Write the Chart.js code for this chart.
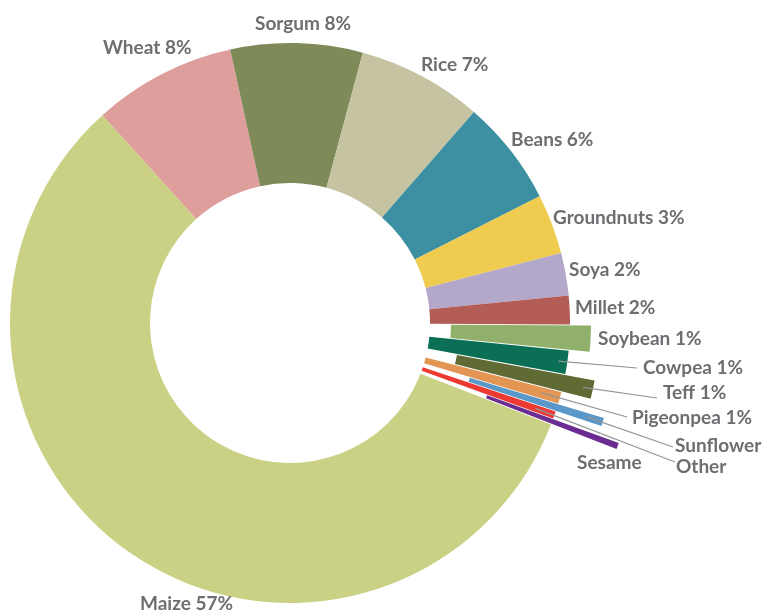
<!DOCTYPE html>
<html>
<head>
<meta charset="utf-8">
<script src="https://cdn.jsdelivr.net/npm/chart.js@4.4.0/dist/chart.umd.min.js"></script>
<style>
  html, body { margin: 0; padding: 0; background: #fff; }
  #wrap { width: 763px; height: 613px; }
</style>
</head>
<body>
<div id="wrap"><canvas id="crops" width="763" height="613"></canvas></div>
<script>
// crop shares (%), clockwise from the top-left
const crops = ["Wheat", "Sorgum", "Rice", "Beans", "Groundnuts", "Soya", "Millet",
  "Soybean", "Cowpea", "Teff", "Pigeonpea", "Sunflower", "Other", "Sesame", "Maize"];
const shares = [8.25, 7.6, 7.2, 6.1, 3.45, 2.45, 1.65, 1.49, 1.33, 1.06, 0.67, 0.47, 0.42, 0.36, 57.28];
// crops whose label carries no percentage
const noPct = ["Sunflower", "Other", "Sesame"];
// slices pulled out of the ring, and how far (px)
const pullOut = { Soybean: 21, Teff: 30, Sunflower: 48, Sesame: 70 };

const colors = ["#de9e9c", "#7f8a59", "#c6c3a3", "#3d90a1", "#efcb4f", "#b3a8c9", "#b45d57",
  "#90b06c", "#0a6f55", "#5f6a35", "#e39553", "#5a98c9", "#ec3a33", "#6a2c91", "#cad185"];

// label anchor (left, middle); leader line end and how deep it starts inside the slice
const spots = {
  Wheat: [103, 48], Sorgum: [255, 24], Rice: [421, 65], Beans: [511, 140],
  Groundnuts: [553, 218], Soya: [569, 270], Millet: [575, 308], Soybean: [598, 339],
  Cowpea: [643, 368, 637, 368, 9], Teff: [663, 393, 657, 398, 10],
  Pigeonpea: [632, 418, 627, 417, 19], Sunflower: [675, 446, 673, 447, 17],
  Other: [676, 467, 675, 462, 20], Sesame: [577, 463], Maize: [140, 604]
};

const labelText = (i) => noPct.includes(crops[i]) ? crops[i] : crops[i] + " " + Math.round(shares[i]) + "%";

// shift of a slice along its middle angle
function shiftOf(arc, i) {
  const d = pullOut[crops[i]] || 0;
  const mid = (arc.startAngle + arc.endAngle) / 2;
  return [Math.cos(mid) * d, Math.sin(mid) * d];
}

// moves the pulled slices straight out, keeping their full angle
const explode = {
  id: "explode",
  afterUpdate(chart) {
    chart.getDatasetMeta(0).data.forEach((arc, i) => {
      if (arc._pulled) return;
      arc._pulled = true;
      const draw = arc.draw;
      arc.draw = function (ctx, area) {
        const [dx, dy] = shiftOf(this, i);
        ctx.save();
        ctx.translate(dx, dy);
        draw.call(this, ctx, area);
        ctx.restore();
      };
    });
  }
};

const cropLabels = {
  id: "cropLabels",
  afterDatasetsDraw(chart) {
    const ctx = chart.ctx;
    const arcs = chart.getDatasetMeta(0).data;
    ctx.save();
    ctx.font = "bold 19px Lato";
    ctx.textBaseline = "middle";
    ctx.textAlign = "left";
    arcs.forEach((arc, i) => {
      const s = spots[crops[i]];
      if (s.length > 2) {
        const [dx, dy] = shiftOf(arc, i);
        const mid = (arc.startAngle + arc.endAngle) / 2;
        const r = arc.outerRadius - s[4];
        ctx.strokeStyle = "#939598";
        ctx.lineWidth = 1.2;
        ctx.beginPath();
        ctx.moveTo(arc.x + dx + Math.cos(mid) * r, arc.y + dy + Math.sin(mid) * r);
        ctx.lineTo(s[2], s[3]);
        ctx.stroke();
      }
      ctx.fillStyle = "#6d6e71";
      ctx.fillText(labelText(i), s[0], s[1]);
    });
    ctx.restore();
  }
};

new Chart(document.getElementById("crops").getContext("2d"), {
  type: "doughnut",
  data: {
    labels: crops,
    datasets: [{
      data: shares,
      backgroundColor: colors,
      borderWidth: 0
    }]
  },
  options: {
    responsive: false,
    animation: false,
    rotation: -42.1,
    cutout: "50%",
    radius: 280,
    layout: { padding: { left: 10, right: 193, top: 38, bottom: 5 } },
    plugins: { legend: { display: false }, tooltip: { enabled: false } }
  },
  plugins: [explode, cropLabels]
});
</script>
</body>
</html>
